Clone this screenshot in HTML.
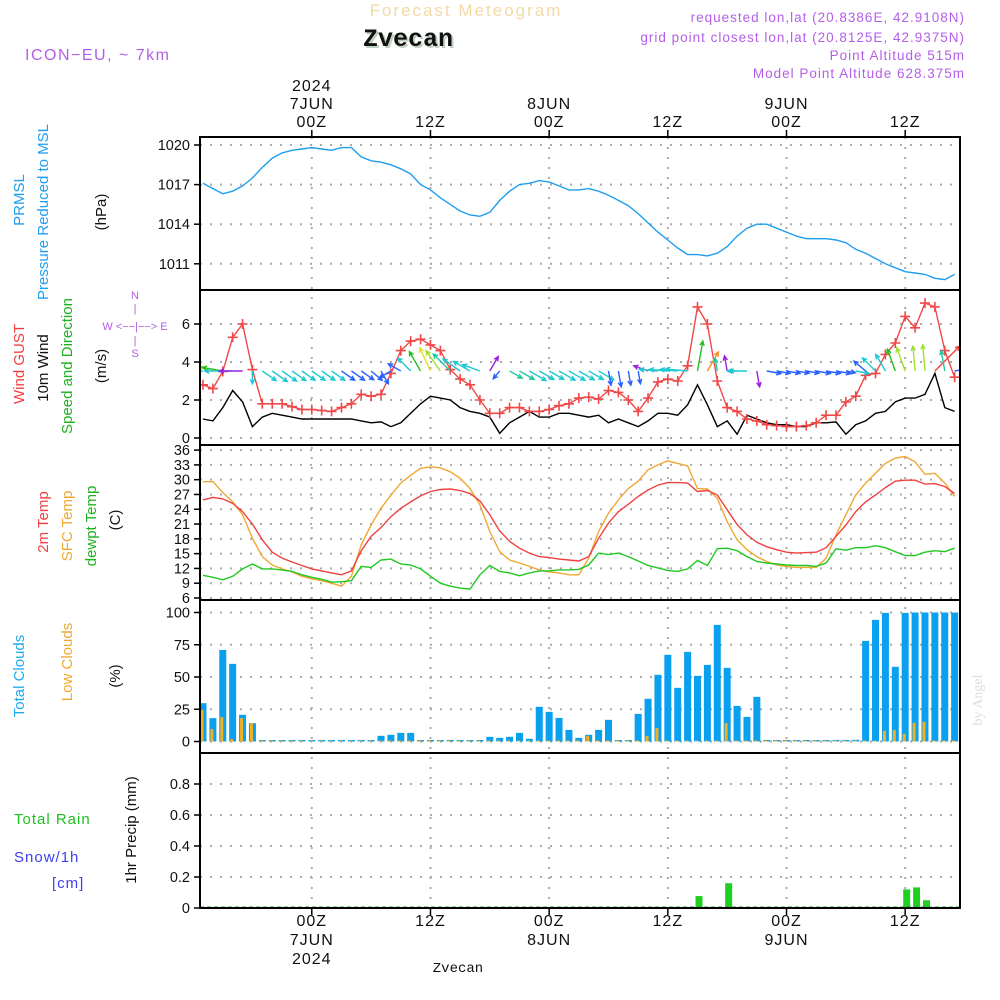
<!DOCTYPE html>
<html><head><meta charset="utf-8">
<style>
html,body{margin:0;padding:0;background:#fff;}
svg{display:block;font-family:"Liberation Sans",sans-serif;}
</style></head>
<body>
<svg id="chart" width="1000" height="1000" viewBox="0 0 1000 1000" xmlns="http://www.w3.org/2000/svg">
<rect width="1000" height="1000" fill="#fff"/>
<text x="466" y="16" text-anchor="middle" font-size="17" fill="#f3d9a6" letter-spacing="2">Forecast Meteogram</text>
<text x="410" y="48" text-anchor="middle" font-size="25" font-weight="bold" font-family="Liberation Mono, monospace" fill="#c0d0c0">Zvecan</text>
<text x="408" y="46" text-anchor="middle" font-size="25" font-weight="bold" font-family="Liberation Mono, monospace" fill="#111">Zvecan</text>
<text x="25" y="60" font-size="16" fill="#b45ee8" letter-spacing="1.5">ICON−EU, ~ 7km</text>
<g font-size="13.5" fill="#b45ee8" text-anchor="end" letter-spacing="1">
<text x="965" y="22">requested lon,lat (20.8386E, 42.9108N)</text>
<text x="965" y="42">grid point closest lon,lat (20.8125E, 42.9375N)</text>
<text x="965" y="60">Point Altitude 515m</text>
<text x="965" y="78">Model Point Altitude 628.375m</text>
</g>
<text transform="translate(982,700) rotate(-90)" text-anchor="middle" font-size="14" fill="#ddd" font-family="Liberation Serif, serif">by Angel</text>
<g id="grid"></g>
<g id="marks"></g>
<g id="frame"></g>
<g id="labels" font-size="15" fill="#111"></g>
</svg>
<script>
// ---- data (hourly, starting ~13Z 6 JUN) ----
const hours = Array.from({length:77},(_,i)=>i);
const pressure = [1017.1,1016.7,1016.3,1016.5,1016.9,1017.5,1018.3,1019.0,1019.4,1019.6,1019.7,1019.8,1019.7,1019.6,1019.8,1019.8,1019.1,1018.8,1018.7,1018.5,1018.2,1017.8,1017.0,1016.6,1016.0,1015.5,1015.0,1014.7,1014.6,1014.9,1015.8,1016.5,1017.0,1017.1,1017.3,1017.2,1016.9,1016.6,1016.6,1016.7,1016.5,1016.2,1015.8,1015.4,1014.8,1014.1,1013.4,1012.8,1012.2,1011.7,1011.7,1011.6,1011.8,1012.3,1013.1,1013.7,1014.0,1014.0,1013.7,1013.4,1013.1,1012.9,1012.9,1012.9,1012.8,1012.6,1012.1,1011.8,1011.4,1011.0,1010.7,1010.4,1010.3,1010.2,1009.9,1009.8,1010.2];
const gust = [2.8,2.6,3.5,5.3,6.0,3.6,1.8,1.8,1.8,1.65,1.5,1.5,1.45,1.4,1.6,1.8,2.3,2.2,2.3,3.4,4.6,5.1,5.2,4.9,4.6,3.6,3.1,2.8,2.0,1.3,1.3,1.6,1.6,1.4,1.4,1.5,1.7,1.8,2.1,2.15,2.05,2.5,2.4,2.0,1.4,2.1,2.95,3.1,3.0,3.8,6.9,6.0,3.0,1.6,1.4,1.0,0.9,0.7,0.65,0.6,0.6,0.65,0.8,1.2,1.2,1.9,2.2,3.3,3.4,4.4,5.0,6.4,5.8,7.1,6.9,4.6,3.2];
const wind10m = [1.0,0.9,1.6,2.5,1.9,0.6,1.1,1.3,1.2,1.1,1.0,1.0,1.0,1.0,1.0,1.0,0.9,0.8,0.85,0.6,0.8,1.3,1.8,2.2,2.1,2.0,1.6,1.4,1.3,1.1,0.25,0.8,1.1,1.4,1.1,1.1,1.3,1.3,1.2,1.1,1.2,0.8,1.0,0.8,0.6,0.9,1.3,1.3,1.2,1.75,2.8,1.75,0.6,0.9,0.2,1.2,1.0,0.8,0.7,0.7,0.6,0.6,0.8,0.8,0.85,0.2,0.7,0.9,1.3,1.4,1.9,2.1,2.1,2.3,3.4,1.6,1.4];
const windAngle = [175,195,190,180,180,90,35,35,35,35,35,35,35,35,35,35,35,40,60,150,210,225,240,245,235,225,215,210,200,300,130,30,30,30,30,30,30,30,30,30,30,80,80,80,80,200,185,185,185,185,280,300,260,260,180,180,80,10,10,10,10,10,10,10,10,10,10,220,225,240,250,250,265,265,315,260,350];
const windColor = ["c","y","g","c","p","c","c","c","c","c","c","c","c","c","b","b","b","b","b","b","b","c","g","y","l","t","c","c","c","p","b","t","t","c","c","c","c","c","c","c","c","b","b","b","b","p","c","c","c","c","g","o","t","p","c","c","p","b","b","b","b","b","b","b","b","b","c","b","c","c","g","l","l","l","r","t","b"];
const temp2m = [25.9,26.4,26.1,25.2,23.5,21.0,17.8,15.3,14.1,13.3,12.6,11.9,11.5,11.1,10.7,11.5,15.6,18.5,20.3,22.5,24.2,25.5,26.7,27.6,28.0,28.1,27.8,27.2,25.7,22.9,19.6,17.5,16.1,15.1,14.4,14.2,13.9,13.7,13.5,14.4,18.1,21.2,23.5,25.0,26.6,27.9,28.9,29.4,29.4,29.3,27.6,27.8,26.9,23.9,20.9,18.8,17.3,16.4,15.8,15.3,15.1,15.2,15.3,16.2,18.5,20.8,23.5,25.5,26.9,28.4,29.7,29.9,29.9,29.1,29.2,28.6,27.2];
const tempSfc = [29.6,29.6,27.4,25.5,22.9,18.1,14.4,12.7,11.9,11.3,10.4,9.9,9.5,9.0,8.4,10.4,16.8,20.8,24.2,26.9,29.3,30.9,32.3,32.6,32.4,31.6,30.3,28.2,24.9,19.5,15.4,13.7,13.1,12.4,11.7,11.3,11.1,10.7,10.7,14.1,19.5,23.2,25.9,28.2,29.7,32.0,33.0,33.8,33.3,32.8,28.2,28.1,26.2,21.5,17.8,15.8,14.4,13.4,12.7,12.4,12.2,12.2,12.2,14.1,18.8,22.9,26.9,29.3,31.3,33.3,34.4,34.7,33.6,31.1,31.3,29.3,26.6];
const dewpt = [10.6,10.2,9.7,10.4,11.9,12.9,11.9,11.9,11.7,11.4,10.7,10.2,9.8,9.2,9.3,9.5,12.4,12.2,13.7,13.9,12.9,12.7,11.9,10.4,9.0,8.4,8.0,7.8,10.7,12.6,11.4,11.1,10.5,11.1,11.5,11.5,11.7,11.7,11.8,12.7,15.1,14.8,15.1,14.4,13.5,12.6,12.1,11.6,11.4,11.9,13.6,12.6,16.0,16.1,15.6,14.4,13.4,13.1,12.9,12.7,12.6,12.6,12.4,13.1,16.0,15.7,16.2,16.2,16.6,16.2,15.4,14.6,14.6,15.3,15.6,15.4,16.1];
const totalClouds = [29.7,18.1,71,60.2,20.7,14.2,0,0,0,0,0,0,0,0,0,0,0,0,4.4,5.2,6.7,6.7,0,0,0,0,0,0,0,3.6,2.8,3.6,6.7,2.1,26.9,23,18.3,9,2.8,5.2,9,16.8,0,0,21.4,33.1,51.7,67.2,41.6,69.5,50.9,59.4,90.4,57.1,27.6,19.1,34.6,0,0,0,0,0,0,0,0,0,1.3,78,94.3,99.7,57.9,99.7,100,100,100,100,100];
const lowClouds = [24.5,9.6,18.9,1.8,18.1,14.2,0,0,0,0,0,0,0,0,0,0,0,0,0,0,0,0,0,0,0,0,0,0,0,0,0,0,0,0,0,0,0,0,0,4.4,0,0,0,0,0,4.4,10.6,0,0,0,0,0,0,14.2,0,0,0,0,0,0,0,0,0,0,0,0,0,0,0,8.3,9,5.9,14.5,15.2,0,0,0];
const precip = [0,0,0,0,0,0,0,0,0,0,0,0,0,0,0,0,0,0,0,0,0,0,0,0,0,0,0,0,0,0,0,0,0,0,0,0,0,0,0,0,0,0,0,0,0,0,0,0,0,0,0.077,0,0,0.16,0,0,0,0,0,0,0,0,0,0,0,0,0,0,0,0,0,0.12,0.133,0.05,0,0,0];
const pressureTicks = [1011,1014,1017,1020];
const windTicks = [0,2,4,6];
const tempTicks = [6,9,12,15,18,21,24,27,30,33,36];
const cloudTicks = [0,25,50,75,100];
const precipTicks = [0,0.2,0.4,0.6,0.8];
const timeTicks = [11,23,35,47,59,71];
const timeTopLabels = [["2024","7JUN","00Z"],["12Z"],["8JUN","00Z"],["12Z"],["9JUN","00Z"],["12Z"]];
const timeBottomLabels = [["00Z","7JUN","2024"],["12Z"],["00Z","8JUN"],["12Z"],["00Z","9JUN"],["12Z"]];

// ---- scales ----
const X0=200, X1=960;
const xT = t => 203 + 9.89*t;
const yP = v => 145 + (1020-v)*13.2;
const yW = v => 438 - v*19;
const yT = v => 598 - (v-6)*4.93;
const yC = v => 741.5 - v*1.29;
const yR = v => 908 - v*155;
const colors = {c:"#1ec8d2",y:"#e6e020",g:"#20c020",p:"#9a20e0",b:"#2860ff",l:"#a0e030",t:"#20c8a0",o:"#f09020",r:"#f04040"};

const NS="http://www.w3.org/2000/svg";
function mk(tag, attrs, parent){const e=document.createElementNS(NS,tag);for(const k in attrs)e.setAttribute(k,attrs[k]);parent.appendChild(e);return e;}
const grid=document.getElementById('grid'), marks=document.getElementById('marks'), frame=document.getElementById('frame'), labels=document.getElementById('labels');

// clip
const defs=mk('defs',{},document.getElementById('chart'));
const cp=mk('clipPath',{id:'plotclip'},defs); mk('rect',{x:X0,y:137,width:X1-X0,height:771},cp);
marks.setAttribute('clip-path','url(#plotclip)');

// horizontal gridlines + tick labels
function hgrid(ticks, sc, fmt, name){
  ticks.forEach(v=>{
    const y=sc(v);
    const l=mk('line',{x1:X0,x2:X1,y1:y,y2:y,stroke:"#aaa","stroke-width":2,"stroke-dasharray":"2 8"},grid);
    
    
    const tk=mk('line',{x1:X0-6,x2:X0,y1:y,y2:y,stroke:"#000","stroke-width":1.5},frame);
    
    
    const t=mk('text',{x:X0-10,y:y+5,"text-anchor":"end","font-size":14.5},labels);
    t.textContent=fmt(v);
    
    
  });
}
hgrid(pressureTicks,yP,v=>v,'pressure');
hgrid(windTicks,yW,v=>v,'wind');
hgrid(tempTicks,yT,v=>v,'temp');
hgrid(cloudTicks,yC,v=>v,'cloud');
hgrid(precipTicks,yR,v=>v===0?"0":v.toFixed(1),'precip');

// vertical gridlines + time labels
timeTicks.forEach((t,i)=>{
  const x=xT(t);
  const l=mk('line',{x1:x,x2:x,y1:137,y2:908,stroke:"#aaa","stroke-width":2,"stroke-dasharray":"2 8"},grid);
  
  
  const tk=mk('line',{x1:x,x2:x,y1:130,y2:137,stroke:"#000","stroke-width":1.5},frame);
  
  
  const tb=mk('line',{x1:x,x2:x,y1:908,y2:915,stroke:"#000","stroke-width":1.5},frame);
  
  
  const top=timeTopLabels[i];
  top.forEach((s,j)=>{
    const tt=mk('text',{x:x,y:127-(top.length-1-j)*18,"text-anchor":"middle","font-size":16,"letter-spacing":1},labels);
    tt.textContent=s;
    
    
  });
  timeBottomLabels[i].forEach((s,j)=>{
    const tt=mk('text',{x:x,y:926+j*19,"text-anchor":"middle","font-size":16,"letter-spacing":1},labels);
    tt.textContent=s;
    
    
  });
});

function line(arr, sx, sy, color, name, w){
  const d=arr.map((v,i)=>(i?'L':'M')+sx(i).toFixed(1)+','+sy(v).toFixed(1)).join('');
  const p=mk('path',{d:d,fill:"none",stroke:color,"stroke-width":w||1.4},marks);
  
  
}
// pressure
line(pressure,xT,yP,"#1e9ef0",'pressure-line');
// wind 10m
line(wind10m,xT,yW,"#000",'wind10m-line');
// gust line + markers
line(gust,xT,yW,"#f04848",'gust-line');
gust.forEach((v,i)=>{
  const x=xT(i), y=yW(v);
  const m=mk('path',{d:`M${x-5},${y}H${x+5}M${x},${y-5}V${y+5}`,stroke:"#f04848","stroke-width":1.6},marks);
  
  
});
// wind arrows
windAngle.forEach((a,i)=>{
  const x=xT(i), y=371, L=8+8*wind10m[i];
  const r=a*Math.PI/180, ex=x+L*Math.cos(r), ey=y+L*Math.sin(r);
  const h=5, a1=r+Math.PI-0.45, a2=r+Math.PI+0.45;
  const d=`M${x.toFixed(1)},${y}L${ex.toFixed(1)},${ey.toFixed(1)}M${(ex+h*Math.cos(a1)).toFixed(1)},${(ey+h*Math.sin(a1)).toFixed(1)}L${ex.toFixed(1)},${ey.toFixed(1)}L${(ex+h*Math.cos(a2)).toFixed(1)},${(ey+h*Math.sin(a2)).toFixed(1)}`;
  const p=mk('path',{d:d,fill:"none",stroke:colors[windColor[i]],"stroke-width":1.4},marks);
  
  
});
// temps
line(tempSfc,xT,yT,"#f0a830",'sfc-temp-line');
line(temp2m,xT,yT,"#f04040",'temp2m-line');
line(dewpt,xT,yT,"#20c820",'dewpt-line');
// clouds
totalClouds.forEach((v,i)=>{
  const x=xT(i), y=yC(v), h=Math.max(1.5,741.5-y);
  const b=mk('rect',{x:x-3.5,y:741.5-h,width:7,height:h,fill:"#0aa0f0"},marks);
  
  
});
lowClouds.forEach((v,i)=>{
  const y=yC(v), h=Math.max(1,741.5-y);
  const b=mk('rect',{x:xT(i)-2.5,y:741.5-h,width:3,height:h,fill:"#f0b020"},marks);
  
  
});
// precip
precip.forEach((v,i)=>{
  if(v<=0) return;
  const y=yR(v);
  const b=mk('rect',{x:xT(i)-2,y:y,width:7,height:908-y,fill:"#20d020"},marks);
  
  
});
mk('line',{x1:X0,x2:X1,y1:907,y2:907,stroke:"#20a020","stroke-width":1,"stroke-dasharray":"4 3"},marks);

// frames
[[137,290],[290,445],[445,600],[600,753],[753,908]].forEach(([a,b])=>{
  const r=mk('rect',{x:X0,y:a,width:X1-X0,height:b-a,fill:"none",stroke:"#000","stroke-width":2},frame);
  
  
});
</script>
<g></g>
<svg width="0" height="0"></svg>
<div style="position:absolute;left:0;top:0;width:1000px;height:1000px;pointer-events:none;">
<svg width="1000" height="1000" style="position:absolute;left:0;top:0;font-family:'Liberation Sans',sans-serif" font-size="15">
<g>
<text transform="translate(24,200) rotate(-90)" text-anchor="middle" fill="#1e9ef0">PRMSL</text>
<text transform="translate(48,212) rotate(-90)" text-anchor="middle" fill="#1e9ef0">Pressure Reduced to MSL</text>
<text transform="translate(106,212) rotate(-90)" text-anchor="middle" fill="#111">(hPa)</text>
</g>
<g>
<text transform="translate(24,364) rotate(-90)" text-anchor="middle" fill="#f04040">Wind GUST</text>
<text transform="translate(48,368) rotate(-90)" text-anchor="middle" fill="#111">10m Wind</text>
<text transform="translate(72,366) rotate(-90)" text-anchor="middle" fill="#20b020">Speed and Direction</text>
<text transform="translate(106,366) rotate(-90)" text-anchor="middle" fill="#111">(m/s)</text>
</g>
<g font-size="11" fill="#b45ee8" text-anchor="middle">
<text x="135" y="299">N</text>
<text x="135" y="312">|</text>
<text x="135" y="330">W &lt;−−|−−&gt; E</text>
<text x="135" y="344">|</text>
<text x="135" y="357">S</text>
</g>
<g>
<text transform="translate(48,522) rotate(-90)" text-anchor="middle" fill="#f04040">2m Temp</text>
<text transform="translate(72,526) rotate(-90)" text-anchor="middle" fill="#f0a830">SFC Temp</text>
<text transform="translate(96,526) rotate(-90)" text-anchor="middle" fill="#20b020">dewpt Temp</text>
<text transform="translate(120,520) rotate(-90)" text-anchor="middle" fill="#111">(C)</text>
</g>
<g>
<text transform="translate(24,676) rotate(-90)" text-anchor="middle" fill="#1eaaf0">Total Clouds</text>
<text transform="translate(72,662) rotate(-90)" text-anchor="middle" fill="#f0a830">Low Clouds</text>
<text transform="translate(120,676) rotate(-90)" text-anchor="middle" fill="#111">(%)</text>
</g>
<g letter-spacing="1">
<text x="14" y="824" fill="#20c020">Total  Rain</text>
<text x="14" y="862" fill="#4040f0">Snow/1h</text>
<text x="52" y="888" fill="#4040f0">[cm]</text>
<text transform="translate(136,830) rotate(-90)" text-anchor="middle" fill="#111" letter-spacing="0">1hr Precip (mm)</text>
</g>
<text x="458" y="972" text-anchor="middle" font-size="14" font-family="Liberation Mono, monospace" fill="#111">Zvecan</text>
</svg>
</div>
</body></html>
